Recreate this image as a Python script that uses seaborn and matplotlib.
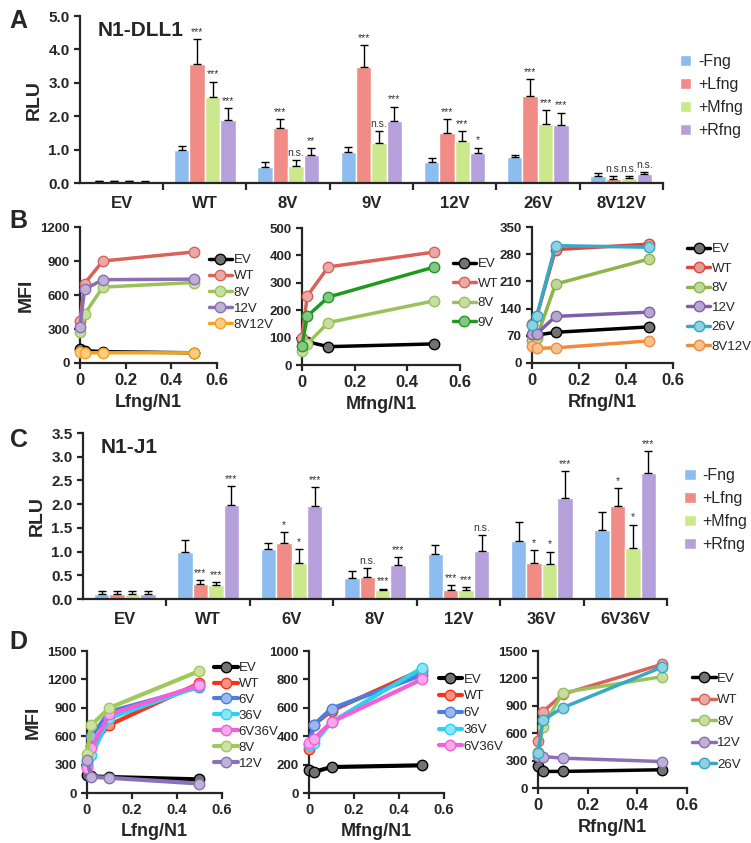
"""
Fringe glycosylation of Notch1 variants: reporter activity (RLU) and ligand binding (MFI).
"""

import pandas as pd
import matplotlib
matplotlib.use("Agg")
import matplotlib.pyplot as plt
import seaborn as sns

# ---------------- data ----------------
fng_labels = ["-Fng", "+Lfng", "+Mfng", "+Rfng"]
bar_colors = ["#8cbcf0", "#f08c85", "#cbe98c", "#b6a0dc"]

# Panel A: N1-DLL1
a_groups = ["EV", "WT", "8V", "9V", "12V", "26V", "8V12V"]
a_none = [0.05, 1.00, 0.49, 0.94, 0.63, 0.79, 0.22]
a_lfng = [0.05, 3.58, 1.65, 3.49, 1.49, 2.61, 0.12]
a_mfng = [0.05, 2.58, 0.52, 1.20, 1.26, 1.78, 0.15]
a_rfng = [0.04, 1.88, 0.85, 1.86, 0.89, 1.73, 0.26]
a_none_err = [0.02, 0.12, 0.13, 0.14, 0.13, 0.04, 0.08]
a_lfng_err = [0.02, 0.73, 0.26, 0.64, 0.43, 0.51, 0.08]
a_mfng_err = [0.02, 0.46, 0.16, 0.36, 0.30, 0.41, 0.07]
a_rfng_err = [0.02, 0.36, 0.19, 0.43, 0.17, 0.38, 0.08]
a_none_sig = ["", "", "", "", "", "", ""]
a_lfng_sig = ["", "***", "***", "***", "***", "***", "n.s."]
a_mfng_sig = ["", "***", "n.s.", "n.s.", "***", "***", "n.s."]
a_rfng_sig = ["", "***", "**", "***", "*", "***", "n.s."]

# Panel C: N1-J1
c_groups = ["EV", "WT", "6V", "8V", "12V", "36V", "6V36V"]
c_none = [0.10, 1.00, 1.05, 0.44, 0.96, 1.23, 1.45]
c_lfng = [0.10, 0.32, 1.18, 0.46, 0.18, 0.77, 1.96]
c_mfng = [0.10, 0.29, 0.77, 0.18, 0.20, 0.74, 1.07]
c_rfng = [0.10, 1.98, 1.97, 0.72, 1.01, 2.12, 2.66]
c_none_err = [0.07, 0.24, 0.14, 0.16, 0.17, 0.40, 0.38]
c_lfng_err = [0.07, 0.08, 0.23, 0.19, 0.11, 0.26, 0.38]
c_mfng_err = [0.07, 0.06, 0.29, 0.04, 0.06, 0.26, 0.50]
c_rfng_err = [0.07, 0.40, 0.39, 0.17, 0.34, 0.58, 0.46]
c_none_sig = ["", "", "", "", "", "", ""]
c_lfng_sig = ["", "***", "*", "n.s.", "***", "*", "*"]
c_mfng_sig = ["", "***", "*", "***", "***", "*", "*"]
c_rfng_sig = ["", "***", "***", "***", "n.s.", "***", "***"]

# Ligand binding titrations (Fringe/N1 ratio)
ratio = [0, 0.02, 0.1, 0.5]

b1_names = ["EV", "WT", "8V", "12V", "8V12V"]
b1_colors = ["#000000", "#d9625a", "#9bc25a", "#8a6fb5", "#f7a21b"]
b1_ev = [120, 110, 100, 90]
b1_wt = [370, 700, 900, 980]
b1_8v = [270, 430, 670, 710]
b1_12v = [320, 650, 735, 740]
b1_8v12v = [100, 90, 90, 90]

b2_names = ["EV", "WT", "8V", "9V"]
b2_colors = ["#000000", "#d9625a", "#9bc25a", "#1f9a1f"]
b2_ev = [95, 85, 67, 77]
b2_wt = [100, 252, 358, 412]
b2_8v = [50, 77, 155, 234]
b2_9v = [70, 178, 248, 357]

b3_names = ["EV", "WT", "8V", "12V", "26V", "8V12V"]
b3_colors = ["#000000", "#d9473f", "#8db548", "#7f5fa8", "#35a9c6", "#f08c3a"]
b3_ev = [73, 72, 79, 93]
b3_wt = [100, 120, 292, 306]
b3_8v = [60, 65, 203, 268]
b3_12v = [75, 75, 120, 131]
b3_26v = [99, 120, 302, 298]
b3_8v12v = [45, 38, 39, 57]

d1_names = ["EV", "WT", "6V", "36V", "6V36V", "8V", "12V"]
d1_colors = ["#000000", "#f2341c", "#4a7fe0", "#28d2f0", "#f25fd8", "#a2c85a", "#8a73b5"]
d1_ev = [187, 176, 169, 144]
d1_wt = [290, 500, 720, 1160]
d1_6v = [330, 600, 860, 1120]
d1_36v = [300, 400, 790, 1130]
d1_6v36v = [260, 480, 830, 1140]
d1_8v = [410, 720, 900, 1290]
d1_12v = [350, 170, 160, 100]

d2_names = ["EV", "WT", "6V", "36V", "6V36V"]
d2_colors = ["#000000", "#f2341c", "#4a7fe0", "#28d2f0", "#f25fd8"]
d2_ev = [160, 148, 183, 195]
d2_wt = [310, 480, 580, 866]
d2_6v = [345, 478, 595, 830]
d2_36v = [340, 350, 500, 878]
d2_6v36v = [355, 380, 500, 800]

d3_names = ["EV", "WT", "8V", "12V", "26V"]
d3_colors = ["#000000", "#d9625a", "#9bc25a", "#8a6fb5", "#35a9c6"]
d3_ev = [236, 182, 182, 200]
d3_wt = [517, 836, 1028, 1355]
d3_8v = [400, 665, 1046, 1220]
d3_12v = [350, 345, 327, 290]
d3_26v = [386, 745, 880, 1325]

# ---------------- style ----------------
sns.set_style("ticks")
plt.rcParams["font.family"] = ["Liberation Sans", "DejaVu Sans"]
plt.rcParams["axes.linewidth"] = 1.6


def lighten(color, amount=0.45):
    r, g, b = matplotlib.colors.to_rgb(color)
    return (r + (1 - r) * amount, g + (1 - g) * amount, b + (1 - b) * amount)


def bar_panel(ax, groups, means, errs, sigs, ymax, ystep, title, legend_anchor):
    df = pd.DataFrame({
        "group": groups * 4,
        "fng": [f for f in fng_labels for _ in groups],
        "rlu": [v for m in means for v in m],
    })
    sns.barplot(data=df, x="group", y="rlu", hue="fng", hue_order=fng_labels,
                order=groups, palette=bar_colors, width=0.74, errorbar=None,
                saturation=1, ax=ax)
    for cont, err, sig in zip(ax.containers, errs, sigs):
        xs = [p.get_x() + p.get_width() / 2 for p in cont]
        hs = [p.get_height() for p in cont]
        ax.errorbar(xs, hs, yerr=[[0] * len(err), err], fmt="none",
                    ecolor="black", elinewidth=1, capsize=3, capthick=1)
        for x, h, e, s in zip(xs, hs, err, sig):
            if s:
                ax.annotate(s, (x, h + e), xytext=(0, 1.5), textcoords="offset points",
                            ha="center", va="bottom", fontsize=7.5, color="#333333")
    ax.set_xlim(-0.5, len(groups) - 0.5)
    ax.set_ylim(0, ymax)
    ax.set_yticks([i * ystep for i in range(int(round(ymax / ystep)) + 1)])
    ax.set_xlabel("")
    ax.set_ylabel("RLU", fontsize=14, fontweight="bold")
    ax.set_xticks(range(len(groups)))
    ax.set_xticklabels(groups, fontsize=12, fontweight="bold")
    ax.set_xticks([i + 0.5 for i in range(len(groups))], minor=True)
    ax.tick_params(axis="x", which="major", length=0, pad=9)
    ax.tick_params(axis="x", which="minor", length=5, width=1.6, direction="out")
    ax.tick_params(axis="y", length=4, width=1.6)
    ax.yaxis.set_major_formatter(matplotlib.ticker.FormatStrFormatter("%.1f"))
    for lab in ax.get_yticklabels():
        lab.set_fontweight("bold")
        lab.set_fontsize(11)
    ax.text(0.03, 0.97, title, transform=ax.transAxes, fontsize=15,
            fontweight="bold", va="top")
    ax.legend(loc="upper left", bbox_to_anchor=legend_anchor, frameon=False,
              fontsize=11.5, handlelength=0.7, handleheight=0.7,
              handletextpad=0.4, labelspacing=0.5, borderaxespad=0, borderpad=0)
    sns.despine(ax=ax)


def line_panel(ax, names, colors, series, ymax, ystep, xlabel, ylabel,
               legend_anchor, spacing, tick_size, lw=2.5):
    for name, color, vals in zip(names, colors, series):
        sns.lineplot(x=ratio, y=vals, ax=ax, color=color, linewidth=lw,
                     marker="o", markersize=7.5, markerfacecolor=lighten(color),
                     markeredgecolor=color, markeredgewidth=1, label=name,
                     clip_on=False, zorder=3)
    ax.set_xlim(0, 0.6)
    ax.set_ylim(0, ymax)
    ax.set_xticks([0, 0.2, 0.4, 0.6])
    ax.set_xticklabels(["0", "0.2", "0.4", "0.6"], fontsize=tick_size, fontweight="bold")
    ax.set_yticks(range(0, ymax + 1, ystep))
    ax.set_yticklabels([str(v) for v in range(0, ymax + 1, ystep)],
                       fontsize=9.5, fontweight="bold")
    ax.tick_params(axis="both", length=4, width=1.6)
    ax.set_xlabel(xlabel, fontsize=13, fontweight="bold")
    ax.set_ylabel(ylabel, fontsize=14, fontweight="bold")
    ax.legend(loc="upper left", bbox_to_anchor=legend_anchor, frameon=False,
              fontsize=9.5, handlelength=1.8, handletextpad=0.1,
              labelspacing=spacing, borderaxespad=0)
    sns.despine(ax=ax)


fig = plt.figure(figsize=(7.51, 8.43), dpi=100)

# Panel A
ax_a = fig.add_axes([0.1065, 0.7829, 0.776, 0.198])
bar_panel(ax_a, a_groups, [a_none, a_lfng, a_mfng, a_rfng],
          [a_none_err, a_lfng_err, a_mfng_err, a_rfng_err],
          [a_none_sig, a_lfng_sig, a_mfng_sig, a_rfng_sig],
          5.0, 1.0, "N1-DLL1", (1.03, 0.77))

# Panel B
ax_b1 = fig.add_axes([0.1065, 0.5694, 0.1824, 0.1613])
line_panel(ax_b1, b1_names, b1_colors, [b1_ev, b1_wt, b1_8v, b1_12v, b1_8v12v],
           1200, 300, "Lfng/N1", "MFI", (0.9, 0.84), 0.3, 12)
ax_b2 = fig.add_axes([0.4021, 0.567, 0.2104, 0.1625])
line_panel(ax_b2, b2_names, b2_colors, [b2_ev, b2_wt, b2_8v, b2_9v],
           500, 100, "Mfng/N1", "", (0.92, 0.82), 0.55, 12)
ax_b3 = fig.add_axes([0.7084, 0.5694, 0.1877, 0.1613])
line_panel(ax_b3, b3_names, b3_colors,
           [b3_ev, b3_wt, b3_8v, b3_12v, b3_26v, b3_8v12v],
           350, 70, "Rfng/N1", "", (1.06, 0.92), 0.55, 12)

# Panel C
ax_c = fig.add_axes([0.1105, 0.2894, 0.7776, 0.1969])
bar_panel(ax_c, c_groups, [c_none, c_lfng, c_mfng, c_rfng],
          [c_none_err, c_lfng_err, c_mfng_err, c_rfng_err],
          [c_none_sig, c_lfng_sig, c_mfng_sig, c_rfng_sig],
          3.5, 0.5, "N1-J1", (1.03, 0.79))

# Panel D
ax_d1 = fig.add_axes([0.1158, 0.0593, 0.1798, 0.1684])
line_panel(ax_d1, d1_names, d1_colors,
           [d1_ev, d1_wt, d1_6v, d1_36v, d1_6v36v, d1_8v, d1_12v],
           1500, 300, "Lfng/N1", "MFI", (0.9, 0.96), 0.28, 10.5, lw=3)
ax_d2 = fig.add_axes([0.4115, 0.0593, 0.1798, 0.1684])
line_panel(ax_d2, d2_names, d2_colors, [d2_ev, d2_wt, d2_6v, d2_36v, d2_6v36v],
           1000, 200, "Mfng/N1", "", (0.92, 0.88), 0.35, 10.5, lw=3)
ax_d3 = fig.add_axes([0.7164, 0.0652, 0.1984, 0.1625])
line_panel(ax_d3, d3_names, d3_colors, [d3_ev, d3_wt, d3_8v, d3_12v, d3_26v],
           1500, 300, "Rfng/N1", "", (1.0, 0.88), 0.7, 12)

for letter, y in zip("ABCD", [0.975, 0.738, 0.478, 0.238]):
    fig.text(0.013, y, letter, fontsize=18, fontweight="bold", va="center")

fig.savefig("out.png", dpi=100)
